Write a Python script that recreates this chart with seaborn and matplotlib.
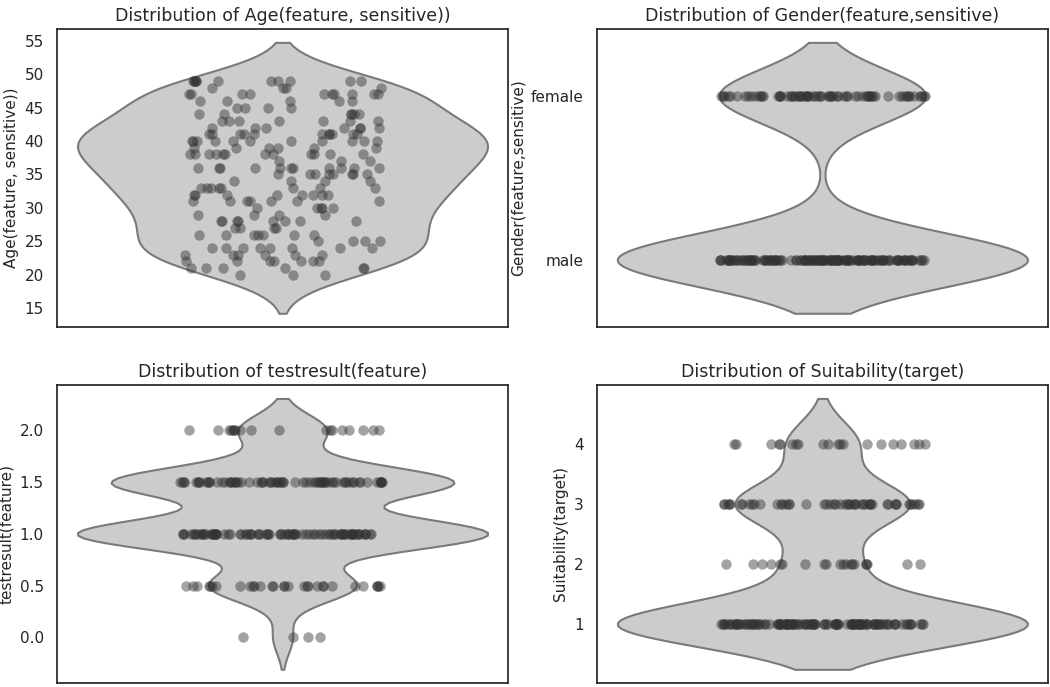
import numpy as np
import pandas as pd
import matplotlib
matplotlib.use("Agg")
import matplotlib.pyplot as plt
import seaborn as sns

# ---- data (counts) ----
age_values = list(range(20, 50))
age_counts = [3, 6, 7, 6, 8, 4, 7, 4, 8, 4,
              5, 7, 8, 8, 4, 8, 11, 3, 12, 6,
              11, 11, 7, 7, 6, 4, 5, 10, 4, 11]

gender_levels = ["male", "female"]
gender_codes = [0, 1]
gender_counts = [137, 69]

test_values = [0.0, 0.5, 1.0, 1.5, 2.0]
test_counts = [4, 30, 84, 70, 18]

suit_values = [1, 2, 3, 4]
suit_counts = [117, 20, 49, 20]

age_col = "Age(feature, sensitive))"
gender_col = "Gender(feature,sensitive)"
test_col = "testresult(feature)"
suit_col = "Suitability(target)"

columns = {
    age_col: np.repeat(age_values, age_counts),
    gender_col: np.repeat(gender_codes, gender_counts),
    test_col: np.repeat(test_values, test_counts),
    suit_col: np.repeat(suit_values, suit_counts),
}

sns.set_theme(style="white")
np.random.seed(3)

fig, axes = plt.subplots(2, 2, figsize=(10.5, 6.87), dpi=100)
for ax, (col, vals) in zip(axes.flat, columns.items()):
    df = pd.DataFrame({col: vals})
    sns.violinplot(data=df, y=col, ax=ax, color=".8", inner=None, linewidth=1.5)
    sns.stripplot(data=df, y=col, ax=ax, color="#333333", alpha=0.45,
                  size=7.5, jitter=0.2)
    ax.set_title(f"Distribution of {col}", fontsize=12.5)
    ax.set_ylabel(col, fontsize=11)
    ax.set_xlabel("")
    ax.set_xticks([])
    ax.set_xlim(-0.44, 0.44)

axes[0, 1].set_yticks(gender_codes)
axes[0, 1].set_yticklabels(gender_levels)

fig.subplots_adjust(left=0.0543, right=0.998, top=0.958, bottom=0.006,
                    wspace=0.197, hspace=0.195)
fig.savefig("out.png", dpi=100)
